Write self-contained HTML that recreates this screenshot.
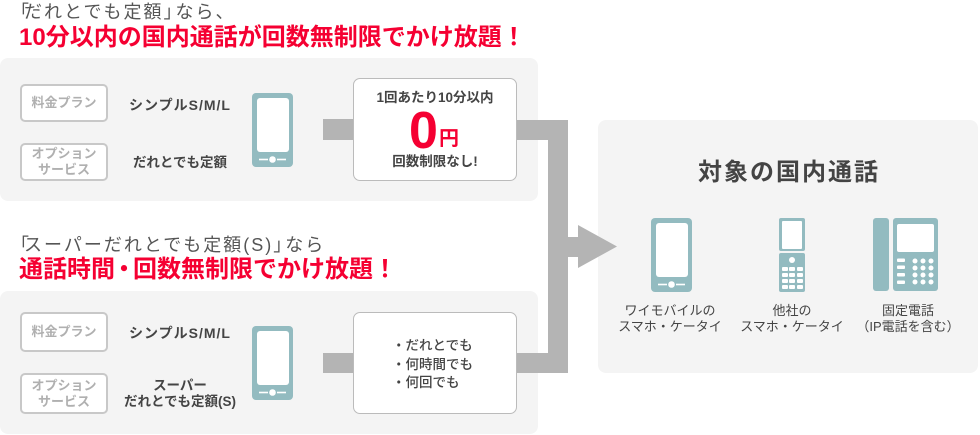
<!DOCTYPE html>
<html><head><meta charset="utf-8">
<style>
*{margin:0;padding:0;box-sizing:border-box}
html,body{width:980px;height:435px;overflow:hidden;background:#fff}
body{position:relative;font-family:"Liberation Sans","Noto Sans CJK JP",sans-serif;color:#444}
.a{position:absolute;white-space:nowrap}
.panel{position:absolute;background:#f4f4f4;border-radius:8px}
.lbl{position:absolute;left:20px;width:88px;border:2px solid #c8c8c8;border-radius:5px;background:#fff;color:#b0b0b0;font-weight:bold;font-size:13px;display:flex;align-items:center;justify-content:center;text-align:center;line-height:16px}
.box{position:absolute;left:353px;width:164px;background:#fff;border:1px solid #bbb;border-radius:7px}
.col{position:absolute;left:120px;width:120px;text-align:center;font-weight:bold;color:#444;white-space:nowrap}
.t1{font-size:18px;line-height:20px;color:#555;left:11px;letter-spacing:2px}
.t2{font-size:24px;line-height:26px;color:#f50032;font-weight:bold;left:19px}
.ob{margin-right:-7px}
.cb{margin-right:-8px}
.dot{margin:0 -3px}
.ic{position:absolute;width:120px;text-align:center;font-size:13px;line-height:16px;color:#444;white-space:nowrap}
</style></head><body>

<div class="a t1" style="top:2px"><span class="ob">「</span>だれとでも定額<span class="cb">」</span>なら、</div>
<div class="a t2" style="top:25px">10分以内の国内通話が回数無制限でかけ放題！</div>
<div class="a t1" style="top:235px"><span class="ob">「</span>スーパーだれとでも定額(S)<span class="cb">」</span>なら</div>
<div class="a t2" style="top:257px">通話時間<span class="dot">・</span>回数無制限でかけ放題！</div>

<div class="panel" style="left:0;top:58px;width:538px;height:143px"></div>
<div class="panel" style="left:0;top:291px;width:538px;height:143px"></div>
<div class="panel" style="left:598px;top:120px;width:380px;height:253px"></div>

<svg class="a" style="left:0;top:0" width="980" height="435" viewBox="0 0 980 435">
  <g fill="#b4b4b4">
    <rect x="323" y="119" width="31" height="21"/>
    <rect x="323" y="353" width="31" height="20"/>
    <path d="M516 120 L568 120 L568 237 L578 237 L578 225 L617 246.5 L578 268 L578 257 L568 257 L568 373 L516 373 L516 353 L548 353 L548 140 L516 140 Z"/>
  </g>
  <g fill="#93bbc0">
    <rect x="252" y="93" width="41" height="74" rx="4"/>
    <rect x="252" y="326" width="41" height="74" rx="4"/>
    <rect x="651" y="218" width="41" height="74" rx="4"/>
    <rect x="779" y="218" width="26" height="33" rx="2"/>
    <rect x="779" y="253" width="26" height="39" rx="2"/>
    <rect x="873" y="218" width="16" height="73" rx="3"/>
    <rect x="893" y="218" width="45" height="73" rx="3"/>
  </g>
  <g fill="#fff">
    <rect x="257" y="98" width="32" height="54" rx="3"/>
    <circle cx="272.5" cy="159.5" r="3.3"/>
    <rect x="259" y="158.7" width="9" height="1.6"/>
    <rect x="277" y="158.7" width="9" height="1.6"/>

    <rect x="257" y="331" width="32" height="54" rx="3"/>
    <circle cx="272.5" cy="392.5" r="3.3"/>
    <rect x="259" y="391.7" width="9" height="1.6"/>
    <rect x="277" y="391.7" width="9" height="1.6"/>

    <rect x="656" y="223" width="32" height="54" rx="3"/>
    <circle cx="671.5" cy="284.5" r="3.3"/>
    <rect x="658" y="283.7" width="9" height="1.6"/>
    <rect x="676" y="283.7" width="9" height="1.6"/>

    <rect x="782" y="221" width="20" height="28" rx="1"/>
    <circle cx="792" cy="260" r="3"/>
    <rect x="782" y="267" width="6" height="4" rx="1"/>
    <rect x="789" y="267" width="6" height="4" rx="1"/>
    <rect x="797" y="267" width="6" height="4" rx="1"/>
    <rect x="782" y="273" width="6" height="4" rx="1"/>
    <rect x="789" y="273" width="6" height="4" rx="1"/>
    <rect x="797" y="273" width="6" height="4" rx="1"/>
    <rect x="782" y="279" width="6" height="4" rx="1"/>
    <rect x="789" y="279" width="6" height="4" rx="1"/>
    <rect x="797" y="279" width="6" height="4" rx="1"/>
    <rect x="782" y="285" width="6" height="4" rx="1"/>
    <rect x="789" y="285" width="6" height="4" rx="1"/>
    <rect x="797" y="285" width="6" height="4" rx="1"/>

    <rect x="897" y="224" width="37" height="28" rx="2"/>
    <rect x="897" y="258.5" width="8" height="3.5" rx="1"/>
    <rect x="897" y="265.5" width="8" height="3.5" rx="1"/>
    <rect x="897" y="273" width="8" height="3.5" rx="1"/>
    <rect x="897" y="280.5" width="8" height="3.5" rx="1"/>
    <circle cx="915" cy="261" r="2.5"/><circle cx="923" cy="261" r="2.5"/><circle cx="931" cy="261" r="2.5"/>
    <circle cx="915" cy="268" r="2.5"/><circle cx="923" cy="268" r="2.5"/><circle cx="931" cy="268" r="2.5"/>
    <circle cx="915" cy="275" r="2.5"/><circle cx="923" cy="275" r="2.5"/><circle cx="931" cy="275" r="2.5"/>
    <circle cx="915" cy="282" r="2.5"/><circle cx="923" cy="282" r="2.5"/><circle cx="931" cy="282" r="2.5"/>
  </g>
</svg>

<!-- top panel content -->
<div class="lbl" style="top:84px;height:38px">料金プラン</div>
<div class="lbl" style="top:143px;height:38px">オプション<br>サービス</div>
<div class="col" style="top:95px;font-size:14px;line-height:20px;letter-spacing:1px">シンプルS/M/L</div>
<div class="col" style="top:153px;font-size:13.5px;line-height:20px">だれとでも定額</div>

<div class="box" style="top:78px;height:103px"></div>
<div class="a" style="left:353px;width:164px;top:88px;text-align:center;font-size:13.5px;line-height:20px;font-weight:bold;color:#444">1回あたり10分以内</div>
<div class="a" style="left:409px;top:105px;font-size:52px;line-height:52px;font-weight:bold;color:#f50032">0</div>
<div class="a" style="left:439px;top:129px;font-size:20px;line-height:20px;font-weight:bold;color:#f50032">円</div>
<div class="a" style="left:353px;width:164px;top:152px;text-align:center;font-size:13.5px;line-height:20px;font-weight:bold;color:#444">回数制限なし!</div>

<!-- bottom panel content -->
<div class="lbl" style="top:312px;height:40px">料金プラン</div>
<div class="lbl" style="top:373px;height:41px">オプション<br>サービス</div>
<div class="col" style="top:323px;font-size:14px;line-height:20px;letter-spacing:1px">シンプルS/M/L</div>
<div class="col" style="top:378px;font-size:13.5px;line-height:16px">スーパー<br>だれとでも定額(S)</div>

<div class="box" style="top:312px;height:102px"></div>
<div class="a" style="left:392px;top:337px;font-size:13.5px;line-height:18.5px;font-weight:500;color:#444">・だれとでも<br>・何時間でも<br>・何回でも</div>

<!-- right panel content -->
<div class="a" style="left:598px;width:380px;top:158px;text-align:center;font-size:24px;line-height:30px;font-weight:bold;letter-spacing:2px;padding-left:2px;color:#444">対象の国内通話</div>
<div class="ic" style="left:610px;top:303px">ワイモバイルの<br>スマホ・ケータイ</div>
<div class="ic" style="left:732px;top:303px">他社の<br>スマホ・ケータイ</div>
<div class="ic" style="left:848px;top:303px">固定電話<br>（IP電話を含む）</div>

</body></html>
